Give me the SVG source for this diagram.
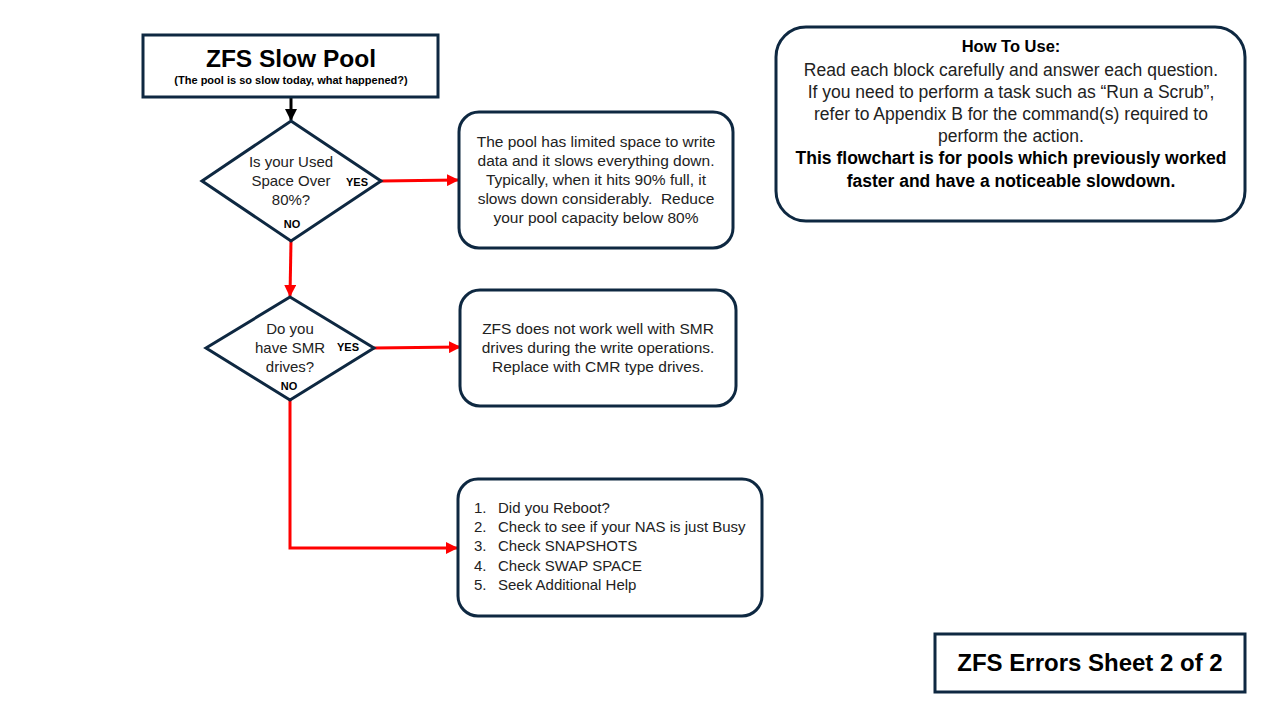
<svg xmlns="http://www.w3.org/2000/svg" width="1280" height="720" viewBox="0 0 1280 720">
<style>
.shape{fill:#fff;stroke:#0e2841;stroke-width:3}
.t{font-family:"Liberation Sans",Arial,sans-serif;fill:#222;text-anchor:middle}
.b{font-family:"Liberation Sans",Arial,sans-serif;fill:#000;font-weight:bold;text-anchor:middle}
.l{font-family:"Liberation Sans",Arial,sans-serif;fill:#222;font-size:15px}
.red{stroke:#ff0000;stroke-width:3;fill:none}
</style>
<defs>
<marker id="ak" markerWidth="12" markerHeight="12" refX="11" refY="6" orient="auto" markerUnits="userSpaceOnUse" viewBox="0 0 12 12"><path d="M0,0 L12,6 L0,12 z" fill="#000"/></marker>
<marker id="arr" markerWidth="12" markerHeight="12" refX="11" refY="6" orient="auto" markerUnits="userSpaceOnUse" viewBox="0 0 12 12"><path d="M0,0 L12,6 L0,12 z" fill="#ff0000"/></marker>
</defs>
<rect width="1280" height="720" fill="#fff"/>
<g id="connectors">
<line x1="291" y1="97" x2="291" y2="120" stroke="#000" stroke-width="3" marker-end="url(#ak)"/>
<line class="red" x1="381" y1="181" x2="458" y2="180" marker-end="url(#arr)"/>
<line class="red" x1="291" y1="241" x2="290" y2="296" marker-end="url(#arr)"/>
<line class="red" x1="374" y1="348" x2="460" y2="347" marker-end="url(#arr)"/>
<polyline class="red" points="290,400 290,548 457,548" marker-end="url(#arr)"/>
</g>
<g id="title">
<rect class="shape" x="143" y="35" width="295" height="62"/>
<text class="b" x="291" y="67" font-size="24.5">ZFS Slow Pool</text>
<text class="b" x="291" y="84" font-size="11">(The pool is so slow today, what happened?)</text>
</g>
<g id="q1" font-size="15">
<polygon class="shape" points="291,121 381,181 291,241 202,181"/>
<text class="t" x="291" y="167">Is your Used</text>
<text class="t" x="291" y="186">Space Over</text>
<text class="t" x="291" y="205">80%?</text>
<text class="b" x="357" y="186" font-size="11">YES</text>
<text class="b" x="292" y="228" font-size="11">NO</text>
</g>
<g id="a1" font-size="15.5">
<rect class="shape" x="459" y="112" width="274" height="136" rx="20"/>
<text class="t" x="596" y="147">The pool has limited space to write</text>
<text class="t" x="596" y="166">data and it slows everything down.</text>
<text class="t" x="596" y="185">Typically, when it hits 90% full, it</text>
<text class="t" x="596" y="204">slows down considerably.&#160; Reduce</text>
<text class="t" x="596" y="223">your pool capacity below 80%</text>
</g>
<g id="q2" font-size="15">
<polygon class="shape" points="290,297 374,348 290,400 206,348"/>
<text class="t" x="290" y="334">Do you</text>
<text class="t" x="290" y="353">have SMR</text>
<text class="t" x="290" y="372">drives?</text>
<text class="b" x="348" y="351" font-size="11">YES</text>
<text class="b" x="289" y="390" font-size="11">NO</text>
</g>
<g id="a2" font-size="15.5">
<rect class="shape" x="460" y="290" width="276" height="116" rx="20"/>
<text class="t" x="598" y="334">ZFS does not work well with SMR</text>
<text class="t" x="598" y="353">drives during the write operations.</text>
<text class="t" x="598" y="372">Replace with CMR type drives.</text>
</g>
<g id="a3">
<rect class="shape" x="458" y="479" width="304" height="137" rx="20"/>
<text class="l" x="474" y="513">1.</text><text class="l" x="498" y="513">Did you Reboot?</text>
<text class="l" x="474" y="532">2.</text><text class="l" x="498" y="532">Check to see if your NAS is just Busy</text>
<text class="l" x="474" y="551">3.</text><text class="l" x="498" y="551">Check SNAPSHOTS</text>
<text class="l" x="474" y="571">4.</text><text class="l" x="498" y="571">Check SWAP SPACE</text>
<text class="l" x="474" y="590">5.</text><text class="l" x="498" y="590">Seek Additional Help</text>
</g>
<g id="howto" font-size="17.5">
<rect class="shape" x="776" y="27" width="469" height="194" rx="30"/>
<text class="b" x="1011" y="52" font-size="16.5">How To Use:</text>
<text class="t" x="1011" y="76">Read each block carefully and answer each question.</text>
<text class="t" x="1011" y="98">If you need to perform a task such as “Run a Scrub”,</text>
<text class="t" x="1011" y="120">refer to Appendix B for the command(s) required to</text>
<text class="t" x="1011" y="142">perform the action.</text>
<text class="b" x="1011" y="164">This flowchart is for pools which previously worked</text>
<text class="b" x="1011" y="187">faster and have a noticeable slowdown.</text>
</g>
<g id="sheet">
<rect class="shape" x="935" y="634" width="310" height="58"/>
<text class="b" x="1090" y="671" font-size="24">ZFS Errors Sheet 2 of 2</text>
</g>
</svg>
